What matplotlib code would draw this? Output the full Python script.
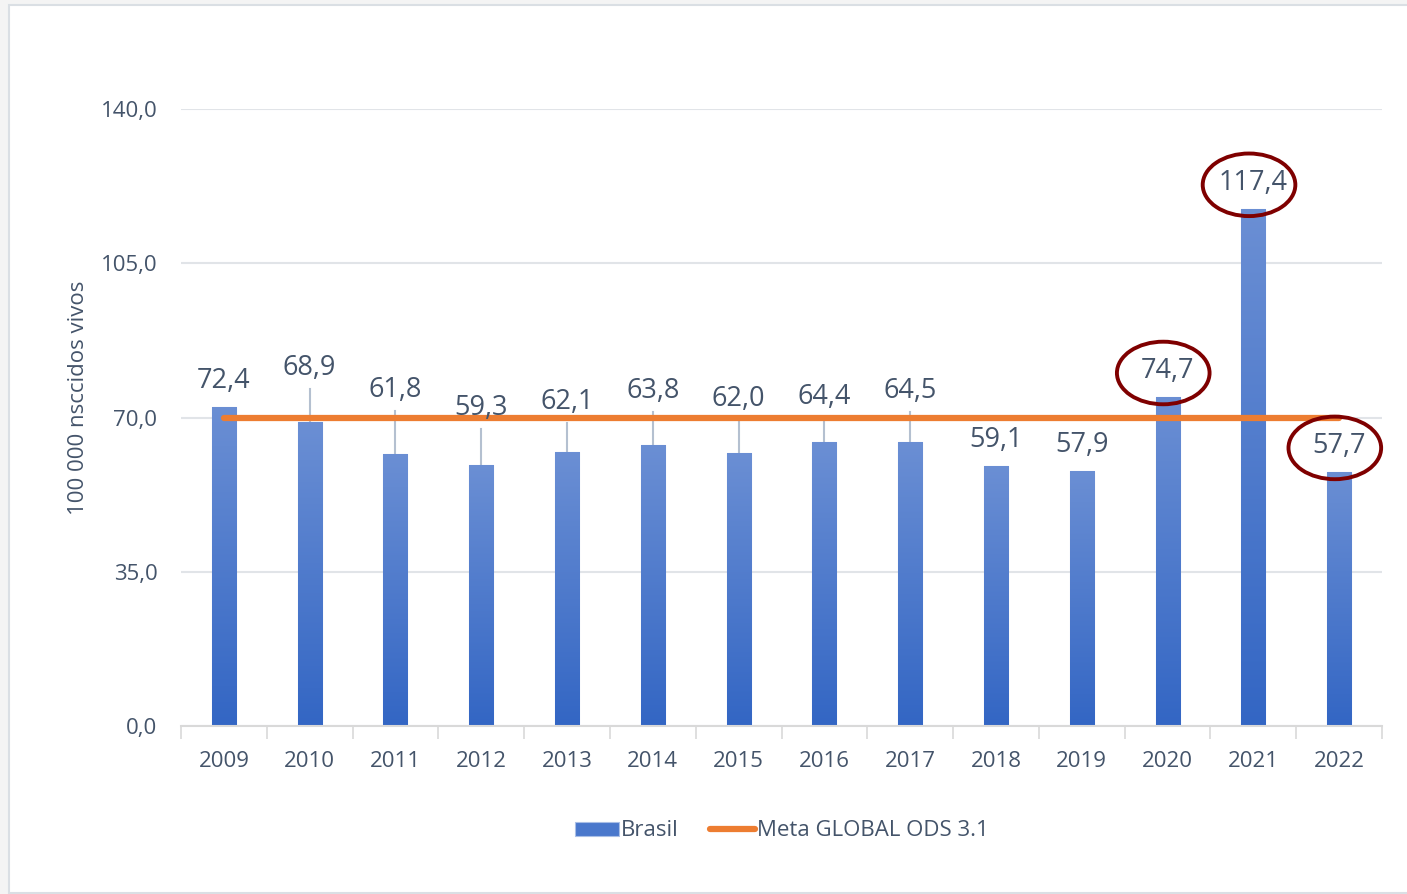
import numpy as np
import matplotlib.pyplot as plt
from matplotlib.patches import Rectangle, Ellipse
from matplotlib.colors import LinearSegmentedColormap

plt.rcParams['font.family'] = ['Open Sans', 'DejaVu Sans']

anos = ['2009', '2010', '2011', '2012', '2013', '2014', '2015',
        '2016', '2017', '2018', '2019', '2020', '2021', '2022']
brasil = [72.4, 68.9, 61.8, 59.3, 62.1, 63.8, 62.0,
          64.4, 64.5, 59.1, 57.9, 74.7, 117.4, 57.7]
meta = 70.0
yticks = [0.0, 35.0, 70.0, 105.0, 140.0]
destaques = ['2020', '2021', '2022']

# labels pushed above the target line get a leader line (label height in data units)
rotulos_deslocados = {'2010': 81.2, '2011': 76.2, '2012': 72.2, '2013': 73.5,
                      '2014': 76.0, '2015': 74.2, '2016': 74.7, '2017': 76.0}

txt = '#44546a'
fmt = lambda v: f'{v:.1f}'.replace('.', ',')

fig = plt.figure(figsize=(14.07, 8.94), dpi=100)
fig.patch.set_facecolor('#f4f4f4')
fig.patches.append(Rectangle((9 / 1407, 0.001), 1, 1 - 5 / 894 - 0.001,
                             transform=fig.transFigure, facecolor='white',
                             edgecolor='#dadfe4', linewidth=1.5, zorder=-10))

ax = fig.add_axes([181 / 1407, 1 - 726 / 894, 1201 / 1407, 617 / 894])
ax.set_facecolor('none')
x = np.arange(len(anos))

bars = ax.bar(x, brasil, width=0.28, color='#4a78cc', edgecolor='#a9bfe6',
              linewidth=0.8, zorder=3, label='Brasil')

# vertical gradient inside each bar
grad = LinearSegmentedColormap.from_list('g', ['#3366c4', '#6b8fd4'])
for b in bars:
    x0, y0 = b.get_x(), b.get_y()
    w, h = b.get_width(), b.get_height()
    im = ax.imshow(np.linspace(0, 1, 256).reshape(-1, 1), cmap=grad, origin='lower',
                   extent=[x0, x0 + w, y0, y0 + h], aspect='auto', zorder=3.1)
    im.set_clip_path(b)

ax.plot([x[0], x[-1]], [meta, meta], color='#ed7d31', linewidth=4.5,
        solid_capstyle='round', zorder=4, label='Meta GLOBAL ODS 3.1')

for xi, ano, v in zip(x, anos, brasil):
    if ano in rotulos_deslocados:
        ly = rotulos_deslocados[ano]
        ax.plot([xi, xi], [ly - 4.8, v], color='#b4c0d0', linewidth=1.5, zorder=2)
    else:
        ly = v + 5.8
    ax.text(xi, ly, fmt(v), ha='center', va='center', fontsize=19.5,
            color=txt, zorder=6)
    if ano in destaques:
        ax.add_patch(Ellipse((xi - 0.05, ly - 0.4), 1.08, 14.2, fill=False,
                             edgecolor='#7f0000', linewidth=2.8, zorder=6,
                             clip_on=False))

ax.set_xlim(-0.5, len(anos) - 0.5)
ax.set_ylim(0, 140)
ax.set_yticks(yticks)
ax.set_yticklabels([fmt(t) for t in yticks])
ax.set_xticks(x)
ax.set_xticklabels(anos)
ax.set_xticks(np.arange(-0.5, len(anos)), minor=True)
ax.tick_params(axis='x', which='major', length=0, pad=18, labelsize=16, colors=txt)
ax.tick_params(axis='x', which='minor', length=9, width=1.2, color='#d9d9d9')
ax.tick_params(axis='y', length=0, pad=17, labelsize=16, colors=txt)
ax.grid(axis='y', color='#e1e4e8', linewidth=1.5, zorder=0)
for s in ['top', 'right', 'left']:
    ax.spines[s].set_visible(False)
ax.spines['bottom'].set_color('#d9d9d9')
ax.spines['bottom'].set_linewidth(1.5)
ax.spines['bottom'].set_zorder(5)

ax.set_ylabel('100 000 nsccidos vivos', fontsize=16, color=txt)
ax.yaxis.set_label_coords(-0.077, 0.532)

h, l = ax.get_legend_handles_labels()
ordem = [l.index('Brasil'), l.index('Meta GLOBAL ODS 3.1')]
ax.legend([h[i] for i in ordem], [l[i] for i in ordem], loc='center',
          bbox_to_anchor=(0.5, -0.17), ncol=2, frameon=False, fontsize=16,
          labelcolor=txt, handlelength=2.0, handleheight=0.6, handletextpad=0.1,
          columnspacing=1.4)

fig.savefig('out.png', dpi=100, facecolor=fig.get_facecolor())
